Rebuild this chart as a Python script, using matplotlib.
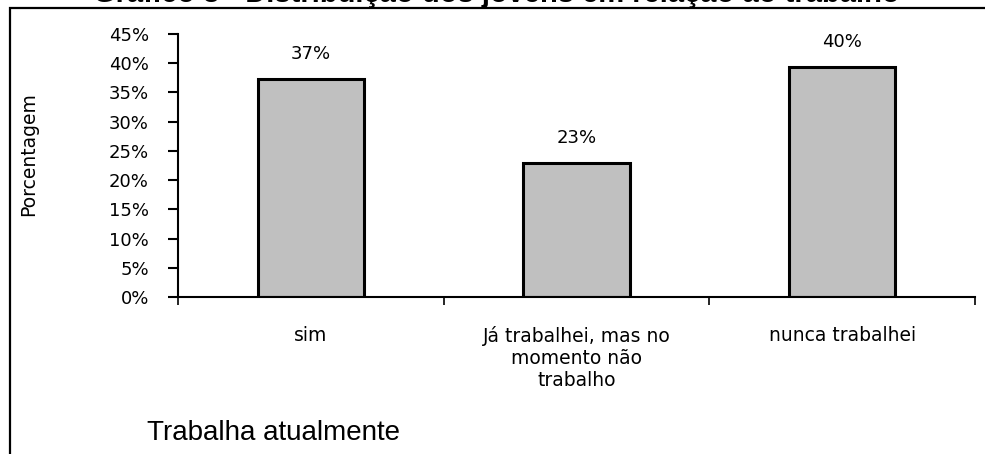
import matplotlib.pyplot as plt
from matplotlib.patches import Rectangle

categorias = ['sim', 'Já trabalhei, mas no\nmomento não\ntrabalho', 'nunca trabalhei']
valores = [0.373, 0.229, 0.394]
rotulos = ['37%', '23%', '40%']
yticks = [0, 0.05, 0.10, 0.15, 0.20, 0.25, 0.30, 0.35, 0.40, 0.45]
ytick_labels = ['0%', '5%', '10%', '15%', '20%', '25%', '30%', '35%', '40%', '45%']

plt.rcParams['font.family'] = ['DejaVu Sans']

fig = plt.figure(figsize=(9.85, 4.54), dpi=100)
ax = fig.add_axes([0.1807, 0.3458, 0.8093, 0.5793])

x = range(len(categorias))
ax.bar(x, valores, width=0.40, color='#C0C0C0', edgecolor='black', linewidth=2.2)

for i, v in enumerate(valores):
    ax.text(i, v + 0.043, rotulos[i], ha='center', va='center', fontsize=13)

ax.set_xlim(-0.5, 2.5)
ax.set_ylim(0, 0.45)
ax.set_yticks(yticks)
ax.set_yticklabels(ytick_labels, fontsize=13)
ax.tick_params(axis='y', direction='out', length=7, width=1.5, pad=14)

# ticks do eixo x ficam entre as categorias
ax.set_xticks([-0.5, 0.5, 1.5, 2.5])
ax.set_xticklabels([])
ax.tick_params(axis='x', direction='out', length=6, width=1.2)
for i, c in enumerate(categorias):
    ax.text(i, -0.049, c, ha='center', va='top', fontsize=13.5, linespacing=1.2)

for s in ['top', 'right']:
    ax.spines[s].set_visible(False)
ax.spines['left'].set_linewidth(1.5)
ax.spines['bottom'].set_linewidth(1.5)

fig.text(29 / 985, 1 - 154 / 454, 'Porcentagem', rotation=90, ha='center', va='center', fontsize=13.5)
fig.text(147 / 985, 1 - 433 / 454, 'Trabalha atualmente', ha='left', va='center',
         fontsize=20, family='Liberation Sans')

# título cortado no topo da imagem
fig.text(0.504, 1 - 1.5 / 454, 'Gráfico 3 - Distribuição dos jovens em relação ao trabalho',
         ha='center', va='baseline', fontsize=21, fontweight='bold', family='Liberation Sans')

# moldura externa
fig.patches.append(Rectangle((9.5 / 985, -0.1), 2, 1.0824, transform=fig.transFigure,
                             fill=False, edgecolor='black', linewidth=1.6))

fig.savefig('out.png', dpi=100)
